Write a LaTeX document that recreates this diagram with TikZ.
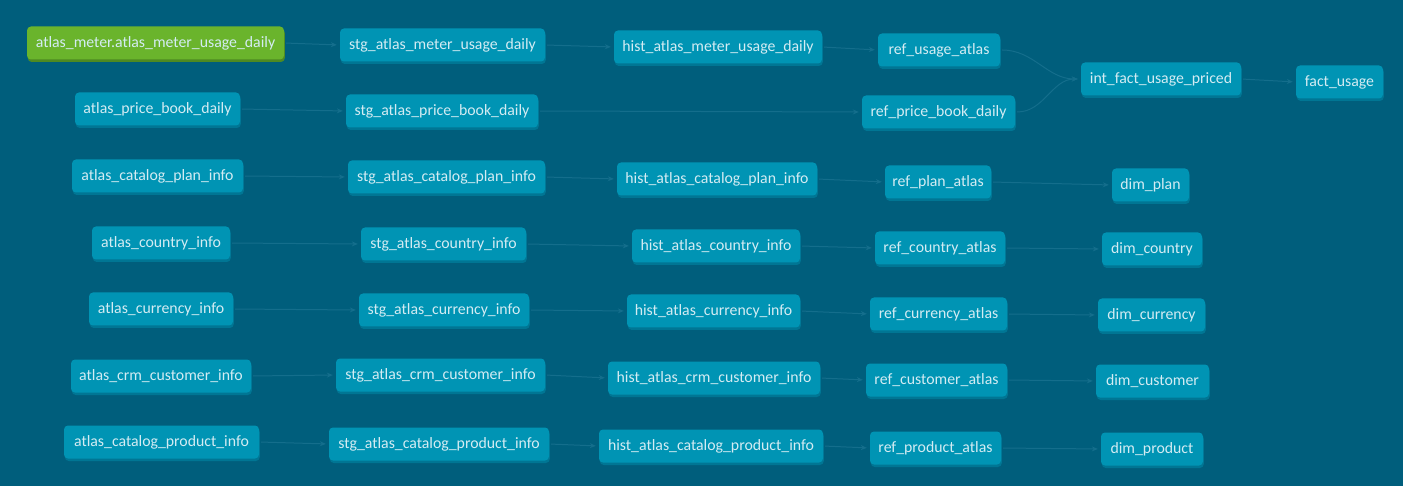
\documentclass[tikz,border=0pt]{standalone}
\usepackage{fontspec}
\setmainfont{Carlito}
\usetikzlibrary{arrows.meta,shadows}
\definecolor{bgc}{RGB}{0,94,124}
\definecolor{boxc}{RGB}{0,148,180}
\definecolor{boxsh}{RGB}{0,118,148}
\definecolor{greenc}{RGB}{106,180,44}
\definecolor{greensh}{RGB}{78,138,34}
\definecolor{txtc}{RGB}{212,236,243}
\definecolor{edgec}{RGB}{20,110,140}
\tikzset{
  model/.style={rectangle, rounded corners=4pt, fill=boxc, text=txtc,
    minimum height=33pt, inner sep=0pt, font=\fontsize{15.8}{18}\selectfont,
    general shadow={fill=boxsh, shadow xshift=0.8pt, shadow yshift=-2.5pt}},
  source/.style={model, fill=greenc,
    general shadow={fill=greensh, shadow xshift=0.8pt, shadow yshift=-2.5pt}},
  edge/.style={draw=edgec, line width=1pt, shorten <=2pt, shorten >=3pt,
    -{Stealth[length=6pt,width=5pt]}}
}
\begin{document}
\begin{tikzpicture}[x=1pt,y=-1pt]
\fill[bgc] (0,0) rectangle (1403,486);
\useasboundingbox (0,0) rectangle (1403,486);
% row 1
\node[source, minimum width=257] (n1) at (155.5,43) {atlas\_meter.atlas\_meter\_usage\_daily};
\node[model, minimum width=205] (s1) at (442.5,45) {stg\_atlas\_meter\_usage\_daily};
\node[model, minimum width=208] (h1) at (718,47) {hist\_atlas\_meter\_usage\_daily};
\node[model, minimum width=122] (r1) at (939,50) {ref\_usage\_atlas};
\node[model, minimum width=160] (i1) at (1161,79) {int\_fact\_usage\_priced};
\node[model, minimum width=87] (f1) at (1339.5,82) {fact\_usage};
% row 2
\node[model, minimum width=165] (n2) at (157.5,109) {atlas\_price\_book\_daily};
\node[model, minimum width=192] (s2) at (442,111) {stg\_atlas\_price\_book\_daily};
\node[model, minimum width=153] (r2) at (938.5,112) {ref\_price\_book\_daily};
% row 3
\node[model, minimum width=171] (n3) at (157.5,176) {atlas\_catalog\_plan\_info};
\node[model, minimum width=197] (s3) at (446.5,177) {stg\_atlas\_catalog\_plan\_info};
\node[model, minimum width=200] (h3) at (717,179) {hist\_atlas\_catalog\_plan\_info};
\node[model, minimum width=106] (r3) at (938,182) {ref\_plan\_atlas};
\node[model, minimum width=77] (d3) at (1150.5,185) {dim\_plan};
% row 4
\node[model, minimum width=138] (n4) at (161,243) {atlas\_country\_info};
\node[model, minimum width=165] (s4) at (443.5,244) {stg\_atlas\_country\_info};
\node[model, minimum width=168] (h4) at (716,246) {hist\_atlas\_country\_info};
\node[model, minimum width=130] (r4) at (940,248) {ref\_country\_atlas};
\node[model, minimum width=100] (d4) at (1152,249) {dim\_country};
% row 5
\node[model, minimum width=144] (n5) at (161,309) {atlas\_currency\_info};
\node[model, minimum width=170] (s5) at (444,310) {stg\_atlas\_currency\_info};
\node[model, minimum width=173] (h5) at (713.5,311) {hist\_atlas\_currency\_info};
\node[model, minimum width=137] (r5) at (938.5,314) {ref\_currency\_atlas};
\node[model, minimum width=107] (d5) at (1151.5,315) {dim\_currency};
% row 6
\node[model, minimum width=180] (n6) at (161,376) {atlas\_crm\_customer\_info};
\node[model, minimum width=209] (s6) at (440.5,375) {stg\_atlas\_crm\_customer\_info};
\node[model, minimum width=212] (h6) at (714,378) {hist\_atlas\_crm\_customer\_info};
\node[model, minimum width=141] (r6) at (936.5,380) {ref\_customer\_atlas};
\node[model, minimum width=113] (d6) at (1152.5,381) {dim\_customer};
% row 7
\node[model, minimum width=195] (n7) at (161.5,442) {atlas\_catalog\_product\_info};
\node[model, minimum width=220] (s7) at (439,444) {stg\_atlas\_catalog\_product\_info};
\node[model, minimum width=224] (h7) at (711,446) {hist\_atlas\_catalog\_product\_info};
\node[model, minimum width=131] (r7) at (935.5,448) {ref\_product\_atlas};
\node[model, minimum width=102] (d7) at (1152,449) {dim\_product};
% edges
\draw[edge] (n1.east) -- (s1.west);
\draw[edge] (s1.east) -- (h1.west);
\draw[edge] (h1.east) -- (r1.west);
\draw[edge] (r1.east) to[out=0,in=180] (i1.west);
\draw[edge] (r2.east) to[out=0,in=180] (i1.west);
\draw[edge] (i1.east) -- (f1.west);
\draw[edge] (n2.east) -- (s2.west);
\draw[edge] (s2.east) -- (r2.west);
\foreach \r in {3,4,5,6,7} {
  \draw[edge] (n\r.east) -- (s\r.west);
  \draw[edge] (s\r.east) -- (h\r.west);
  \draw[edge] (h\r.east) -- (r\r.west);
  \draw[edge] (r\r.east) -- (d\r.west);
}
\end{tikzpicture}
\end{document}
